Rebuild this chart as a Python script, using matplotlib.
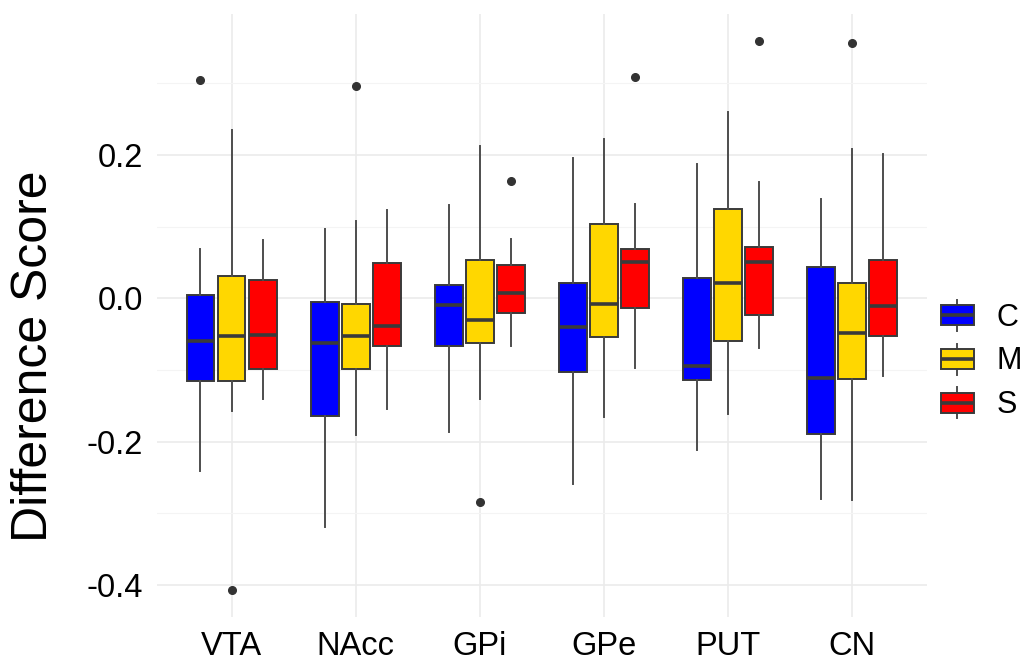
import numpy as np
import matplotlib
matplotlib.use('Agg')
import matplotlib.pyplot as plt
from matplotlib.patches import Patch, Rectangle
from matplotlib.lines import Line2D
from matplotlib.legend_handler import HandlerBase

plt.rcParams['font.family'] = ['Liberation Sans', 'DejaVu Sans']

regions = ['VTA', 'NAcc', 'GPi', 'GPe', 'PUT', 'CN']
groups = ['C', 'M', 'S']
colors = {'C': '#0000FF', 'M': '#FFD700', 'S': '#FF0000'}

# five-number summaries per region, plus outlying points
C_low = [-0.241, -0.319, -0.187, -0.259, -0.212, -0.280]
C_q1 = [-0.115, -0.164, -0.066, -0.103, -0.114, -0.189]
C_med = [-0.059, -0.063, -0.010, -0.040, -0.095, -0.111]
C_q3 = [0.004, -0.005, 0.018, 0.021, 0.028, 0.044]
C_high = [0.069, 0.097, 0.130, 0.196, 0.187, 0.139]
C_out = [[0.305], [], [], [], [], []]

M_low = [-0.158, -0.191, -0.141, -0.166, -0.161, -0.282]
M_q1 = [-0.115, -0.099, -0.063, -0.054, -0.060, -0.112]
M_med = [-0.052, -0.052, -0.030, -0.008, 0.021, -0.048]
M_q3 = [0.031, -0.008, 0.053, 0.104, 0.124, 0.021]
M_high = [0.235, 0.108, 0.213, 0.223, 0.260, 0.209]
M_out = [[-0.407], [0.297], [-0.284], [], [], [0.356]]

S_low = [-0.140, -0.155, -0.066, -0.098, -0.070, -0.109]
S_q1 = [-0.099, -0.067, -0.021, -0.013, -0.023, -0.052]
S_med = [-0.051, -0.039, 0.008, 0.051, 0.050, -0.011]
S_q3 = [0.026, 0.049, 0.047, 0.069, 0.071, 0.053]
S_high = [0.082, 0.123, 0.083, 0.132, 0.163, 0.201]
S_out = [[], [], [0.164], [0.309], [0.359], []]

stats = {
    'C': (C_low, C_q1, C_med, C_q3, C_high, C_out),
    'M': (M_low, M_q1, M_med, M_q3, M_high, M_out),
    'S': (S_low, S_q1, S_med, S_q3, S_high, S_out),
}

edge = '#3a3a3a'
whisk = '#4d4d4d'
fig = plt.figure(figsize=(10.23, 6.6), dpi=100)
ax = fig.add_axes([0.1535, 0.065, 0.7525, 0.914])

x = np.arange(1, len(regions) + 1)
offsets = {'C': -0.25, 'M': 0.0, 'S': 0.25}

for g in groups:
    lo, q1, med, q3, hi, out = stats[g]
    bxp_stats = [dict(whislo=lo[i], q1=q1[i], med=med[i], q3=q3[i],
                      whishi=hi[i], fliers=out[i]) for i in range(len(regions))]
    ax.bxp(bxp_stats, positions=x + offsets[g], widths=0.225,
           patch_artist=True, showcaps=False, manage_ticks=False,
           boxprops=dict(facecolor=colors[g], edgecolor=edge, linewidth=1.4),
           medianprops=dict(color=edge, linewidth=2.6, solid_capstyle='butt'),
           whiskerprops=dict(color=whisk, linewidth=1.4),
           flierprops=dict(marker='o', markersize=5.5, markerfacecolor='#333333',
                           markeredgecolor='#333333'),
           zorder=3)

ax.set_xlim(0.4, 6.6)
ax.set_ylim(-0.445, 0.397)
ax.set_xticks(x)
ax.set_xticklabels(regions)
ax.set_yticks([-0.4, -0.2, 0.0, 0.2])
ax.set_yticklabels(['-0.4', '-0.2', '0.0', '0.2'])
ax.set_yticks([-0.3, -0.1, 0.1, 0.3], minor=True)
ax.tick_params(axis='both', which='both', length=0, labelsize=23.5, colors='black')
ax.tick_params(axis='x', pad=10)
ax.tick_params(axis='y', pad=10)
ax.grid(True, which='major', color='#EBEBEB', linewidth=1.2, zorder=0)
ax.grid(True, which='minor', axis='y', color='#F4F4F4', linewidth=0.8, zorder=0)
ax.set_axisbelow(True)
for s in ax.spines.values():
    s.set_visible(False)
ax.set_ylabel('Difference Score', fontsize=36, va='center')
ax.yaxis.set_label_coords(-0.1597, 0.432)


class BoxKey(HandlerBase):
    def create_artists(self, legend, orig_handle, xdescent, ydescent,
                       width, height, fontsize, trans):
        x0, y0 = -xdescent, -ydescent
        bh = height * 0.64
        by = y0 + (height - bh) / 2
        xm = x0 + width / 2
        rect = Rectangle((x0, by), width, bh, facecolor=orig_handle.get_facecolor(),
                         edgecolor=edge, linewidth=1.4, transform=trans)
        w1 = Line2D([xm, xm], [y0, by], color=whisk, lw=1.4, transform=trans)
        w2 = Line2D([xm, xm], [by + bh, y0 + height], color=whisk, lw=1.4, transform=trans)
        med = Line2D([x0, x0 + width], [y0 + height / 2] * 2, color=edge, lw=2.6,
                     solid_capstyle='butt', transform=trans)
        return [w1, w2, rect, med]


handles = [Patch(facecolor=colors[g]) for g in groups]
fig.legend(handles, groups, handler_map={Patch: BoxKey()},
           loc='center left', bbox_to_anchor=(0.9195, 0.4545), frameon=False,
           fontsize=22, handlelength=1.08, handleheight=1.18,
           handletextpad=0.75, labelspacing=0.36, borderpad=0, borderaxespad=0)

fig.savefig('out.png', dpi=100)
